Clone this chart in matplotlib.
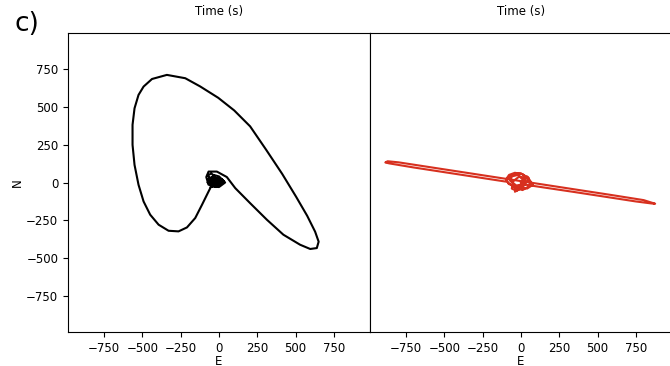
import numpy as np
import matplotlib.pyplot as plt

# horizontal motion, left panel (E, N)
black_e = [-10, -40, -70, -45, -10, -60, -30, 0, -40, -75, -40, 10, -20, -60, -70,
           -30, 20, 40, 0, -50, -70, -30, -46,
           -68, -111, -155, -209, -264, -329, -394, -449, -492, -525, -551, -564,
           -564, -551, -525, -492, -437, -340, -220, -123, -5, 99, 203, 308, 412,
           503, 575, 627, 650, 638, 595, 529, 420, 312, 203, 106,
           51, -14, -68, -83, -68, -40, -75, -50, -20, 10, -30, -60, -35, 0, 30,
           0, -45, -70, -30, 20, -10, -55, -25]
black_n = [0, 20, -5, -15, 0, 10, 30, 5, 40, 0, -25, 10, -30, -10, 20,
           30, 20, 0, -30, -25, 0, 30, -15,
           -59, -147, -234, -296, -322, -318, -278, -212, -125, -15, 116, 248,
           380, 489, 577, 632, 682, 709, 687, 633, 558, 475, 370, 215, 57,
           -94, -219, -324, -390, -432, -438, -410, -344, -245, -136, -37,
           36, 72, 72, 36, -15, 20, 45, 60, 30, 0, -20, 10, 50, 40, 10,
           -20, -5, 25, 30, 20, -10, -30, 5]

# right panel (red)
red_e = [0, 40, 78, 40, -20, -80, -98, -78, -40, 10, 46, 20, -30, -60, -50, -10,
         30, 20, -30, -70, -60, -20, 20, -10, -40, 0,
         150, 350, 550, 750, 850, 875, 800, 600, 400, 200, 0,
         -200, -400, -600, -800, -870, -885, -860, -700, -500, -300, -100,
         -80, -50, 0, 50, 60, 10, -40, -85]
red_n = [0, 40, -15, -40, -30, -10, 20, 50, 64, 55, 20, -20, -55, -40, 10, 40,
         30, -10, -20, 10, 40, 50, 10, -45, -61, -10,
         -33, -63, -94, -125, -138, -140, -116, -84, -53, -22, 9,
         40, 71, 102, 133, 140, 132, 126, 99, 68, 37, 6,
         30, 55, 60, 30, -20, -50, -35, 0]

ticks = [-750, -500, -250, 0, 250, 500, 750]
lim = 985

plt.rcParams['font.size'] = 8.5

fig = plt.figure(figsize=(6.7, 3.66), dpi=100)
ax1 = fig.add_axes([68 / 670, 34 / 366, 302 / 670, 299 / 366])
ax2 = fig.add_axes([370 / 670, 34 / 366, 302 / 670, 299 / 366])

ax1.plot(black_e, black_n, color='black', lw=1.5)
ax2.plot(red_e, red_n, color='#d7301f', lw=1.5)

for ax in (ax1, ax2):
    ax.set_xlim(-lim, lim)
    ax.set_ylim(-lim, lim)
    ax.set_xticks(ticks)
    ax.set_xlabel('E', labelpad=0)
    ax.set_title('Time (s)', fontsize=8.5, pad=13)

ax1.set_yticks(ticks)
ax1.set_ylabel('N', labelpad=2)
ax2.set_yticks([])

fig.text(0.022, 0.915, 'c)', fontsize=19)

fig.savefig('out.png', dpi=100)
